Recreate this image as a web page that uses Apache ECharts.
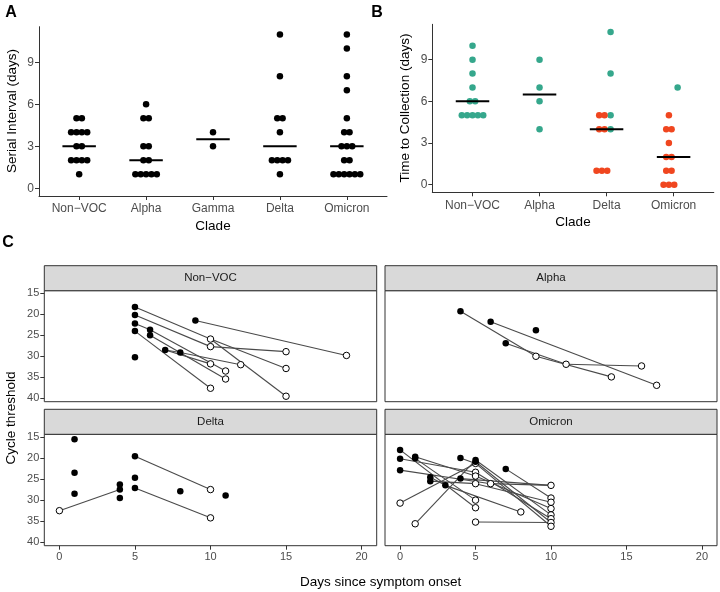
<!DOCTYPE html>
<html>
<head>
<meta charset="utf-8">
<script src="https://cdn.jsdelivr.net/npm/echarts@6/dist/echarts.min.js"></script>
<style>html,body{margin:0;padding:0;background:#fff}#c{width:720px;height:592px}</style>
</head>
<body>
<div id="c"></div>
<script>
// ---------- Panel A: serial interval (days) ----------
const cladesA = ['Non\u2212VOC', 'Alpha', 'Gamma', 'Delta', 'Omicron'];
const siNonVOC = [5, 5, 4, 4, 4, 4, 3, 3, 2, 2, 2, 2, 1];
const siAlpha = [6, 5, 5, 3, 3, 2, 2, 1, 1, 1, 1, 1];
const siGamma = [4, 3];
const siDelta = [11, 8, 5, 5, 4, 2, 2, 2, 2, 1];
const siOmicron = [11, 10, 8, 7, 5, 4, 4, 3, 3, 3, 2, 2, 1, 1, 1, 1, 1, 1];
const siMedians = [3, 2, 3.5, 3, 3];
const ticksA = [0, 3, 6, 9];

// ---------- Panel B: time to collection (days) ----------
const cladesB = ['Non\u2212VOC', 'Alpha', 'Delta', 'Omicron'];
const tcNonVOCTeal = [10, 9, 8, 7, 6, 6, 5, 5, 5, 5, 5];
const tcAlphaTeal = [9, 7, 6, 4];
const tcDeltaTeal = [11, 8, 5, 4];
const tcDeltaRed = [5, 5, 4, 4, 1, 1, 1];
const tcOmicronTeal = [7];
const tcOmicronRed = [5, 4, 4, 3, 2, 2, 1, 1, 0, 0, 0];
const tcMedians = [6, 6.5, 4, 2];
const ticksB = [0, 3, 6, 9];

// ---------- Panel C: cycle threshold vs days since onset ----------
const facetNames = ['Non\u2212VOC', 'Alpha', 'Delta', 'Omicron'];
const daysTicks = [0, 5, 10, 15, 20];
const ctTicks = [15, 20, 25, 30, 35, 40];

const nonVOCFilled = [[5,18.3],[5,20.2],[5,22.2],[5,24.0],[5,30.2],[6,23.7],[6,25.0],[7,28.5],[8,29.1],[9,21.5]];
const nonVOCOpen = [[10,25.9],[10,27.7],[10,31.8],[10,37.6],[11,33.5],[11,35.4],[12,32.0],[15,28.9],[15,32.9],[15,39.5],[19,29.8]];
const nonVOCLinks = [[5,18.3,10,25.9],[10,25.9,15,32.9],[10,25.9,15,39.5],[5,20.2,10,27.7],[10,27.7,15,28.9],
  [5,22.2,6,23.7],[6,23.7,11,33.5],[6,25.0,11,35.4],[5,24.0,10,37.6],[7,28.5,8,29.1],[8,29.1,12,32.0],
  [7,28.5,10,31.8],[9,21.5,19,29.8]];

const alphaFilled = [[4,19.3],[6,21.8],[7,26.9],[9,23.8]];
const alphaOpen = [[9,30.0],[11,31.9],[14,34.9],[16,32.3],[17,36.9]];
const alphaLinks = [[4,19.3,9,30.0],[9,30.0,14,34.9],[6,21.8,17,36.9],[7,26.9,11,31.9],[11,31.9,16,32.3]];

const deltaFilled = [[1,15.6],[1,23.5],[1,28.5],[4,26.3],[4,27.5],[4,29.5],[5,19.6],[5,24.7],[5,27.1],[8,27.9],[11,28.9]];
const deltaOpen = [[0,32.5],[10,27.5],[10,34.2]];
const deltaLinks = [[0,32.5,4,27.5],[5,19.6,10,27.5],[5,27.1,10,34.2]];

const omicronFilled = [[0,18.1],[0,20.2],[0,22.9],[1,19.7],[1,20.1],[2,24.6],[2,25.5],[3,26.5],[4,20.0],[4,24.9],[5,20.5],[5,20.9],[7,22.6]];
const omicronOpen = [[0,30.7],[1,35.6],[5,21.3],[5,23.4],[5,24.3],[5,26.1],[5,30.0],[5,31.8],[5,35.2],[6,26.1],[8,32.8],
  [10,26.5],[10,29.5],[10,30.5],[10,32.0],[10,33.5],[10,34.4],[10,35.3],[10,36.2]];
const omicronLinks = [[0,18.1,5,31.8],[0,20.2,5,23.4],[0,22.9,6,26.1],[1,19.7,5,24.3],[1,20.1,5,30.0],[0,30.7,5,21.3],
  [1,35.6,5,20.5],[2,24.6,3,26.5],[2,25.5,5,26.1],[3,26.5,8,32.8],[4,20.0,5,21.3],[4,24.9,10,26.5],[6,26.1,10,26.5],
  [5,20.5,10,33.5],[5,20.9,10,35.3],[5,21.3,10,36.2],[5,23.4,10,34.4],[5,24.3,10,32.0],[5,26.1,10,30.5],
  [7,22.6,10,29.5],[5,35.2,10,35.3]];

// ---------- helpers ----------
const FONT = 'Liberation Sans, Arial, Helvetica, sans-serif';
const TEAL = '#35a78c';
const RED = '#f0461f';
const STEP = 0.08;   // dot spacing in category units
const HALF = 0.25;   // half width of median bar

function stackDots(values, catPos, shift) {
  const counts = {};
  values.forEach(v => { counts[v] = (counts[v] || 0) + 1; });
  const out = [];
  Object.keys(counts).forEach(k => {
    const n = counts[k];
    for (let i = 0; i < n; i++) out.push([catPos + shift + (i - (n - 1) / 2) * STEP, Number(k)]);
  });
  return out;
}

function axisBase(gridIndex, min, max, ticks, labelOpts, extra) {
  return Object.assign({
    type: 'value', gridIndex, min, max,
    splitLine: { show: false },
    axisLine: { show: true, onZero: false, lineStyle: { color: '#333', width: 1 } },
    axisTick: { show: true, length: 4, lineStyle: { color: '#333', width: 1 }, customValues: ticks },
    axisLabel: Object.assign({ customValues: ticks, color: '#4d4d4d', fontSize: 12, fontFamily: FONT }, labelOpts)
  }, extra || {});
}

const grids = [
  { left: 39, top: 26.7, width: 348, height: 169.3 },
  { left: 432.3, top: 24.3, width: 281.5, height: 168 },
  { left: 44.3, top: 290.7, width: 332.4, height: 111, show: true, borderColor: '#333', borderWidth: 1, backgroundColor: 'transparent' },
  { left: 385, top: 290.7, width: 332, height: 111, show: true, borderColor: '#333', borderWidth: 1, backgroundColor: 'transparent' },
  { left: 44.3, top: 434.3, width: 332.4, height: 111.4, show: true, borderColor: '#333', borderWidth: 1, backgroundColor: 'transparent' },
  { left: 385, top: 434.3, width: 332, height: 111.4, show: true, borderColor: '#333', borderWidth: 1, backgroundColor: 'transparent' }
].map(g => Object.assign({ outerBoundsMode: 'none', containLabel: false }, g));

const xAxes = [
  axisBase(0, 0.4, cladesA.length + 0.6, cladesA.map((_, i) => i + 1),
    { margin: 7, formatter: v => cladesA[Math.round(v) - 1] || '' }),
  axisBase(1, 0.4, cladesB.length + 0.6, cladesB.map((_, i) => i + 1),
    { margin: 7, formatter: v => cladesB[Math.round(v) - 1] || '' })
];
const yAxes = [
  axisBase(0, -0.55, 11.55, ticksA, { margin: 5 }),
  axisBase(1, -0.55, 11.55, ticksB, { margin: 5 })
];
for (let f = 0; f < 4; f++) {
  const g = f + 2;
  const bottom = f >= 2, left = f % 2 === 0;
  const xa = axisBase(g, -1, 21, daysTicks, { margin: 6, fontSize: 11, show: bottom });
  xa.axisLine.show = false;
  xa.axisTick.show = bottom;
  xAxes.push(xa);
  const ya = axisBase(g, 14.4, 40.8, ctTicks, { margin: 5, fontSize: 11, show: left }, { inverse: true });
  ya.axisLine.show = false;
  ya.axisTick.show = left;
  yAxes.push(ya);
}

const series = [];
// Panel A
const siAll = [siNonVOC, siAlpha, siGamma, siDelta, siOmicron];
let dotsA = [];
siAll.forEach((vals, i) => { dotsA = dotsA.concat(stackDots(vals, i + 1, 0)); });
series.push({ type: 'scatter', xAxisIndex: 0, yAxisIndex: 0, data: dotsA, symbolSize: 6.5,
  itemStyle: { color: '#000', opacity: 1 }, z: 3, silent: true });
siMedians.forEach((m, i) => series.push({ type: 'line', xAxisIndex: 0, yAxisIndex: 0,
  data: [[i + 1 - HALF, m], [i + 1 + HALF, m]], symbol: 'none', lineStyle: { color: '#000', width: 2 }, z: 4, silent: true }));

// Panel B
let tealB = [], redB = [];
tealB = tealB.concat(stackDots(tcNonVOCTeal, 1, 0));
tealB = tealB.concat(stackDots(tcAlphaTeal, 2, 0));
tealB = tealB.concat(stackDots(tcDeltaTeal, 3, 0.06));
redB = redB.concat(stackDots(tcDeltaRed, 3, -0.07));
tealB = tealB.concat(stackDots(tcOmicronTeal, 4, 0.06));
redB = redB.concat(stackDots(tcOmicronRed, 4, -0.07));
series.push({ type: 'scatter', xAxisIndex: 1, yAxisIndex: 1, data: tealB, symbolSize: 6.5,
  itemStyle: { color: TEAL, opacity: 1 }, z: 3, silent: true });
series.push({ type: 'scatter', xAxisIndex: 1, yAxisIndex: 1, data: redB, symbolSize: 6.5,
  itemStyle: { color: RED, opacity: 1 }, z: 3, silent: true });
tcMedians.forEach((m, i) => series.push({ type: 'line', xAxisIndex: 1, yAxisIndex: 1,
  data: [[i + 1 - HALF, m], [i + 1 + HALF, m]], symbol: 'none', lineStyle: { color: '#000', width: 2 }, z: 4, silent: true }));

// Panel C
const facets = [
  [nonVOCFilled, nonVOCOpen, nonVOCLinks],
  [alphaFilled, alphaOpen, alphaLinks],
  [deltaFilled, deltaOpen, deltaLinks],
  [omicronFilled, omicronOpen, omicronLinks]
];
facets.forEach(([filled, open, links], f) => {
  const g = f + 2;
  links.forEach(l => series.push({ type: 'line', xAxisIndex: g, yAxisIndex: g,
    data: [[l[0], l[1]], [l[2], l[3]]], symbol: 'none',
    lineStyle: { color: '#4a4a4a', width: 1.1 }, z: 2, silent: true }));
  series.push({ type: 'scatter', xAxisIndex: g, yAxisIndex: g, data: open, symbolSize: 6.5,
    itemStyle: { color: '#fff', borderColor: '#000', borderWidth: 1, opacity: 1 }, z: 3, silent: true });
  series.push({ type: 'scatter', xAxisIndex: g, yAxisIndex: g, data: filled, symbolSize: 6.5,
    itemStyle: { color: '#000', opacity: 1 }, z: 4, silent: true });
});

// ---------- graphic: strips, titles, panel letters ----------
const graphic = [];
function txt(x, y, text, size, opts) {
  graphic.push(Object.assign({ type: 'text', x, y, silent: true,
    style: Object.assign({ text, fontSize: size, fontFamily: FONT, fill: '#000', align: 'center', verticalAlign: 'middle' }, (opts && opts.style) || {}) },
    opts && opts.rotation ? { rotation: opts.rotation } : {}));
}
grids.slice(2).forEach((g, f) => {
  graphic.push({ type: 'rect', silent: true, shape: { x: g.left, y: g.top - 25, width: g.width, height: 25 },
    style: { fill: '#d9d9d9', stroke: '#333', lineWidth: 1 } });
  txt(g.left + g.width / 2, g.top - 12.5, facetNames[f], 11.5, { style: { fill: '#1a1a1a' } });
});
txt(12, 111, 'Serial Interval (days)', 13.5, { rotation: Math.PI / 2 });
txt(213, 226, 'Clade', 13.5);
txt(405, 108, 'Time to Collection (days)', 13.5, { rotation: Math.PI / 2 });
txt(573, 222, 'Clade', 13.5);
txt(11, 418, 'Cycle threshold', 13.5, { rotation: Math.PI / 2 });
txt(380.7, 582, 'Days since symptom onset', 13.5);
txt(11, 13, 'A', 16, { style: { fontWeight: 'bold' } });
txt(377, 13, 'B', 16, { style: { fontWeight: 'bold' } });
txt(8, 243, 'C', 16, { style: { fontWeight: 'bold' } });

const chart = echarts.init(document.getElementById('c'), null, { renderer: 'canvas' });
chart.setOption({
  animation: false,
  backgroundColor: '#fff',
  textStyle: { fontFamily: FONT },
  grid: grids,
  xAxis: xAxes,
  yAxis: yAxes,
  series,
  graphic
});
</script>
</body>
</html>
